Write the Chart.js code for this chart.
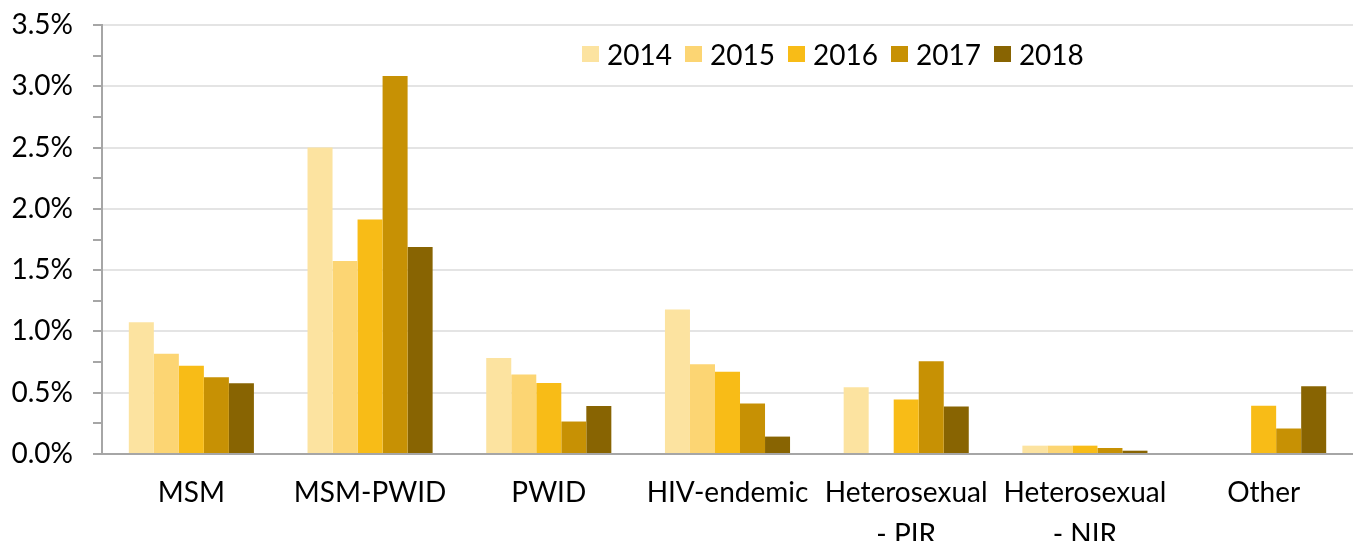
<!DOCTYPE html>
<html>
<head>
<meta charset="utf-8">
<script src="https://cdn.jsdelivr.net/npm/chart.js@4.4.1/dist/chart.umd.min.js"></script>
<style>
  html, body { margin: 0; padding: 0; background: #ffffff; }
  #wrap { position: relative; width: 1353px; height: 541px; }
  #legend { position: absolute; left: 582px; top: 34px; height: 40px; display: flex; align-items: center;
            font-family: Lato, "Open Sans", sans-serif; font-size: 28px; color: #000; }
  .item { display: flex; align-items: center; margin-right: 13px; }
  .box { width: 17px; height: 16px; margin-right: 8px; }
</style>
</head>
<body>
<div id="wrap">
  <canvas id="c" width="1353" height="541"></canvas>
  <div id="legend"></div>
</div>
<script>
const categories = ["MSM", "MSM-PWID", "PWID", "HIV-endemic", ["Heterosexual", "- PIR"], ["Heterosexual", "- NIR"], "Other"];
const seriesNames = ["2014", "2015", "2016", "2017", "2018"];
const y2014 = [1.074, 2.50, 0.784, 1.178, 0.544, 0.068, null];
const y2015 = [0.817, 1.574, 0.648, 0.732, null, 0.068, null];
const y2016 = [0.719, 1.914, 0.579, 0.672, 0.445, 0.068, 0.393];
const y2017 = [0.627, 3.083, 0.265, 0.413, 0.757, 0.049, 0.208];
const y2018 = [0.578, 1.688, 0.391, 0.142, 0.388, 0.027, 0.552];
const colors = ["#FCE3A0", "#FCD573", "#F8BC17", "#C79104", "#886402"];
const yMin = 0, yMax = 3.5, yStep = 0.25;

const seriesValues = [y2014, y2015, y2016, y2017, y2018];
const datasets = seriesNames.map((n, i) => ({
  label: n,
  data: seriesValues[i],
  backgroundColor: colors[i],
  borderWidth: 0,
  categoryPercentage: 0.7,
  barPercentage: 1.0
}));

const FONT = "Lato, 'Open Sans', sans-serif";

new Chart(document.getElementById('c'), {
  type: 'bar',
  data: { labels: categories, datasets },
  options: {
    responsive: false,
    devicePixelRatio: 1,
    animation: false,
    layout: { padding: { top: 25, left: 0, right: 0, bottom: 0 } },
    plugins: { legend: { display: false }, tooltip: { enabled: false } },
    scales: {
      x: {
        grid: { display: false, drawTicks: false },
        border: { display: true, color: '#a6a6a6', width: 2 },
        ticks: { color: '#000', font: { family: FONT, size: 28, lineHeight: 1.5 }, padding: 18, maxRotation: 0, autoSkip: false },
        afterFit: (s) => { s.height = 87; s.paddingLeft = 0; s.paddingRight = 0; }
      },
      y: {
        min: yMin, max: yMax,
        grid: {
          color: (ctx) => (ctx.tick && Math.round(ctx.tick.value * 4) % 2 === 0 && ctx.tick.value > 0) ? '#e4e4e4' : 'rgba(0,0,0,0)',
          lineWidth: 2,
          tickColor: '#a6a6a6',
          tickLength: 9,
          tickWidth: 2,
          drawTicks: true
        },
        border: { display: true, color: '#a6a6a6', width: 2 },
        ticks: {
          stepSize: yStep,
          autoSkip: false,
          color: '#000',
          padding: 20,
          font: { family: FONT, size: 28 },
          callback: (v) => (Math.round(v * 4) % 2 === 0) ? v.toFixed(1) + '%' : ''
        },
        afterFit: (s) => { s.width = 102; s.paddingTop = 0; s.paddingBottom = 0; }
      }
    }
  }
});

const leg = document.getElementById('legend');
seriesNames.forEach((n, i) => {
  const it = document.createElement('div');
  it.className = 'item';
  const b = document.createElement('div');
  b.className = 'box';
  b.style.background = colors[i];
  const t = document.createElement('span');
  t.textContent = n;
  it.appendChild(b); it.appendChild(t);
  leg.appendChild(it);
});
</script>
</body>
</html>
